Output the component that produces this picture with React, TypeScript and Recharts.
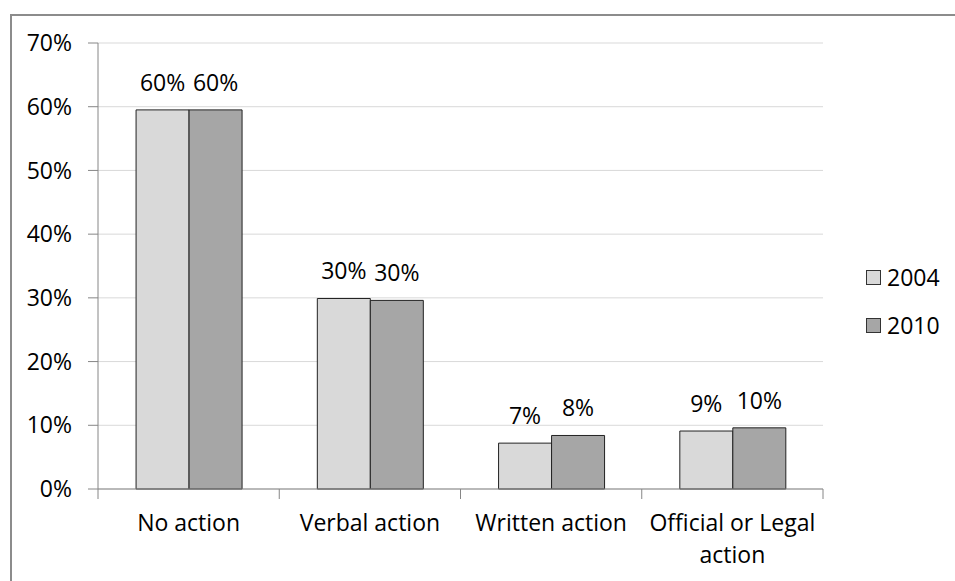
import React from "react";
import { BarChart, Bar, XAxis, YAxis, CartesianGrid, LabelList } from "recharts";

const categories = ["No action", "Verbal action", "Written action", "Official or Legal action"];
const seriesNames = ["2004", "2010"];
const series2004 = [59.5, 29.9, 7.2, 9.1];
const series2010 = [59.5, 29.6, 8.4, 9.6];
const yTicks = [0, 10, 20, 30, 40, 50, 60, 70];

const FONT = "'Open Sans', sans-serif";
const FS = 23;
const W = 955;
const H = 581;
const MARGIN = { top: 43, right: 132, bottom: 0, left: 0 };
const Y_WIDTH = 98;
const X_HEIGHT = 92;
const colors = ["#d9d9d9", "#a6a6a6"];

const data = categories.map((name, i) => ({ name, y2004: series2004[i], y2010: series2010[i] }));

// crude word wrap for the long category label
const wrap = (s: string, max: number) => {
  const lines: string[] = [];
  let cur = "";
  s.split(" ").forEach(w => {
    if (cur && (cur + " " + w).length > max) { lines.push(cur); cur = w; }
    else cur = cur ? cur + " " + w : w;
  });
  if (cur) lines.push(cur);
  return lines;
};

// Excel-style x ticks: marks on category boundaries, labels in the middle
const CategoryTick = (props: any) => {
  const { x, y, payload, index } = props;
  const band = (W - MARGIN.right - Y_WIDTH) / categories.length;
  const left = x - band / 2;
  const lines = wrap(payload.value, 17);
  return (
    <g>
      <line x1={left} y1={y - 8} x2={left} y2={y + 2} stroke="#868686" />
      {index === categories.length - 1 && (
        <line x1={left + band} y1={y - 8} x2={left + band} y2={y + 2} stroke="#868686" />
      )}
      <text x={x} y={y + 34} textAnchor="middle" fontSize={FS} fontFamily={FONT} fill="#000">
        {lines.map((l, i) => (
          <tspan key={i} x={x} dy={i === 0 ? 0 : 32}>{l}</tspan>
        ))}
      </text>
    </g>
  );
};

const fmt = (v: any) => `${Math.round(v)}%`;

export default function App() {
  return (
    <div style={{ position: "absolute", left: 0, top: 0, width: W, height: H, background: "#fff" }}>
      <div style={{ position: "absolute", left: 10, top: 14, right: -4, bottom: -4, borderTop: "2px solid #8c8c8c", borderLeft: "2px solid #8c8c8c" }} />
      <BarChart width={W} height={H} data={data} margin={MARGIN} barCategoryGap="21%" barGap={0}>
        <CartesianGrid vertical={false} stroke="#d9d9d9" />
        <XAxis dataKey="name" tick={<CategoryTick />} tickLine={false} stroke="#868686" interval={0} height={X_HEIGHT} />
        <YAxis domain={[0, 70]} ticks={yTicks} tickFormatter={(v: number) => `${v}%`} width={Y_WIDTH}
          stroke="#868686" tickSize={10} tickMargin={16}
          tick={{ fontSize: FS, fontFamily: FONT, fill: "#000" }} />
        <Bar dataKey="y2004" name={seriesNames[0]} fill={colors[0]} stroke="#222" strokeWidth={1} isAnimationActive={false}>
          <LabelList dataKey="y2004" position="top" offset={19} formatter={fmt}
            style={{ fontSize: FS, fontFamily: FONT, fill: "#000" }} />
        </Bar>
        <Bar dataKey="y2010" name={seriesNames[1]} fill={colors[1]} stroke="#222" strokeWidth={1} isAnimationActive={false}>
          <LabelList dataKey="y2010" position="top" offset={19} formatter={fmt}
            style={{ fontSize: FS, fontFamily: FONT, fill: "#000" }} />
        </Bar>
      </BarChart>
      <div style={{ position: "absolute", left: 866, top: 253, fontFamily: FONT, fontSize: FS, color: "#000" }}>
        {seriesNames.map((n, i) => (
          <div key={n} style={{ display: "flex", alignItems: "center", height: 48 }}>
            <span style={{ width: 13, height: 13, background: colors[i], border: "1px solid #333", marginRight: 6 }} />
            <span>{n}</span>
          </div>
        ))}
      </div>
    </div>
  );
}
